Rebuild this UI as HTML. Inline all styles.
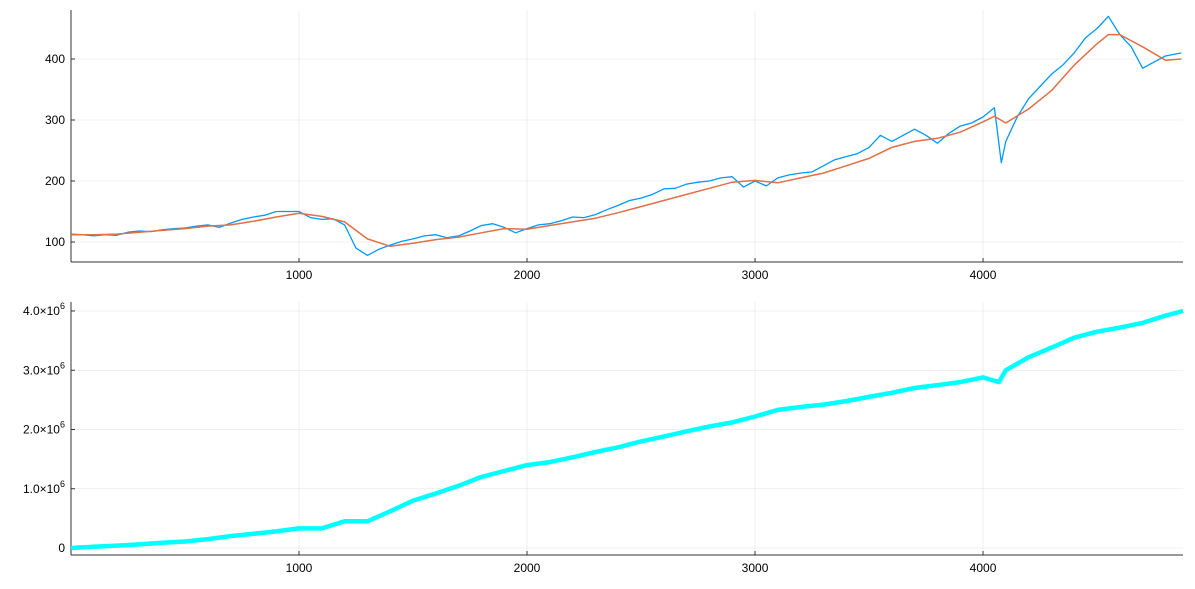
<!DOCTYPE html>
<html><head><meta charset="utf-8"><style>
body{margin:0;background:#fff;}
svg{display:block;font-family:"Liberation Sans",sans-serif;}
</style></head><body>
<svg id="c" width="1195" height="589"></svg>
<script>
const priceIdx=[0,50,100,150,200,250,300,350,400,450,500,550,600,650,700,750,800,850,900,950,1000,1050,1100,1150,1200,1250,1300,1350,1400,1450,1500,1550,1600,1650,1700,1750,1800,1850,1900,1950,2000,2050,2100,2150,2200,2250,2300,2350,2400,2450,2500,2550,2600,2650,2700,2750,2800,2850,2900,2950,3000,3050,3100,3150,3200,3250,3300,3350,3400,3450,3500,3550,3600,3650,3700,3750,3800,3850,3900,3950,4000,4050,4080,4100,4150,4200,4250,4300,4350,4400,4450,4500,4550,4600,4650,4700,4750,4800,4870];
const priceVals=[113,112,110,112,111,116,118,117,120,122,123,126,128,124,131,137,141,144,150,150,150,140,137,138,128,90,78,88,95,101,105,110,112,107,110,118,127,130,124,115,122,128,130,135,141,140,145,153,160,168,172,178,187,188,195,198,200,205,207,190,200,192,205,210,213,215,225,235,240,245,255,275,265,275,285,275,262,278,290,295,305,320,230,265,305,335,355,375,390,410,435,450,470,440,420,385,395,405,410];
const maIdx=[0,100,200,300,400,500,600,700,800,900,1000,1100,1200,1300,1400,1500,1600,1700,1800,1900,2000,2100,2200,2300,2400,2500,2600,2700,2800,2900,3000,3100,3200,3300,3400,3500,3600,3700,3800,3900,4000,4050,4100,4200,4300,4400,4500,4550,4600,4700,4800,4870];
const maVals=[112,112,113,116,119,122,126,128,134,141,147,142,133,105,93,98,104,108,115,122,121,127,133,139,148,158,168,178,188,198,201,197,205,213,225,237,255,265,270,280,297,306,295,318,348,390,425,440,440,420,398,400];
const volIdx=[0,100,200,300,400,500,600,700,800,900,1000,1100,1200,1300,1400,1500,1600,1700,1800,1900,2000,2100,2200,2300,2400,2500,2600,2700,2800,2900,3000,3100,3200,3300,3400,3500,3600,3700,3800,3900,4000,4070,4100,4200,4300,4400,4500,4600,4700,4800,4877];
const volVals=[0,0.02,0.04,0.06,0.09,0.11,0.15,0.2,0.24,0.28,0.33,0.33,0.45,0.45,0.62,0.8,0.92,1.05,1.2,1.3,1.4,1.45,1.53,1.62,1.7,1.8,1.88,1.97,2.05,2.12,2.22,2.33,2.38,2.42,2.48,2.55,2.62,2.7,2.75,2.8,2.88,2.8,3.0,3.22,3.38,3.55,3.65,3.72,3.8,3.92,4.0];
const xTicks=[1000,2000,3000,4000];
const y1Ticks=[100,200,300,400];
const y2Ticks=[0,1,2,3,4];
const y2Labels=["0","1.0×10","2.0×10","3.0×10","4.0×10"];

const NS="http://www.w3.org/2000/svg";
const svg=document.getElementById('c');
function el(t,a,p){const e=document.createElementNS(NS,t);for(const k in a)e.setAttribute(k,a[k]);(p||svg).appendChild(e);return e;}
const L=71,R=1183;
const xs=i=>L+(i-0)*(R-L)/4877;
const y1=v=>242-(v-100)*0.61;
const y2=v=>548-v*59.25;
function panel(top,bot,ys,ticks,labels,name){
  const g=el('g',{});
  
  
  xTicks.forEach(t=>{el('line',{x1:xs(t),x2:xs(t),y1:top,y2:bot,stroke:'#000','stroke-opacity':0.1,'stroke-width':0.6},g);});
  ticks.forEach(t=>{el('line',{x1:L,x2:R,y1:ys(t),y2:ys(t),stroke:'#000','stroke-opacity':0.1,'stroke-width':0.6},g);});
  const ax=el('line',{x1:L,x2:L,y1:top,y2:bot,stroke:'#333','stroke-width':1},g);
  
  const bx=el('line',{x1:L,x2:R,y1:bot,y2:bot,stroke:'#333','stroke-width':1},g);
  
  xTicks.forEach(t=>{
    el('line',{x1:xs(t),x2:xs(t),y1:bot,y2:bot-4,stroke:'#333'},g);
    const tx=el('text',{x:xs(t),y:bot+17,'font-size':12,'text-anchor':'middle',fill:'#000'},g);tx.textContent=t;
    
  });
  ticks.forEach((t,k)=>{
    el('line',{x1:L,x2:L+4,y1:ys(t),y2:ys(t),stroke:'#333'},g);
    const tx=el('text',{x:L-6,y:ys(t)+4,'font-size':12,'text-anchor':'end',fill:'#000'},g);
    
    if(labels&&labels[k]!=="0"){tx.textContent=labels[k];const s=el('tspan',{dy:-6,'font-size':9},tx);s.textContent='6';}
    else tx.textContent=labels?labels[k]:t;
  });
}
panel(10,262,y1,y1Ticks,null,'price-panel');
panel(302,555,y2,y2Ticks,y2Labels,'volume-panel');
function line(idx,vals,ys,col,w,name){
  const d=idx.map((i,k)=>(k?'L':'M')+xs(i).toFixed(1)+','+ys(vals[k]).toFixed(1)).join('');
  const p=el('path',{d:d,fill:'none',stroke:col,'stroke-width':w,'stroke-linejoin':'round'});
  
}
line(priceIdx,priceVals,y1,'#009af9',1.3,'price-line');
line(maIdx,maVals,y1,'#e26f46',1.5,'moving-average-line');
line(volIdx,volVals,y2,'#00ffff',4.5,'cumulative-line');
</script>
</body></html>
